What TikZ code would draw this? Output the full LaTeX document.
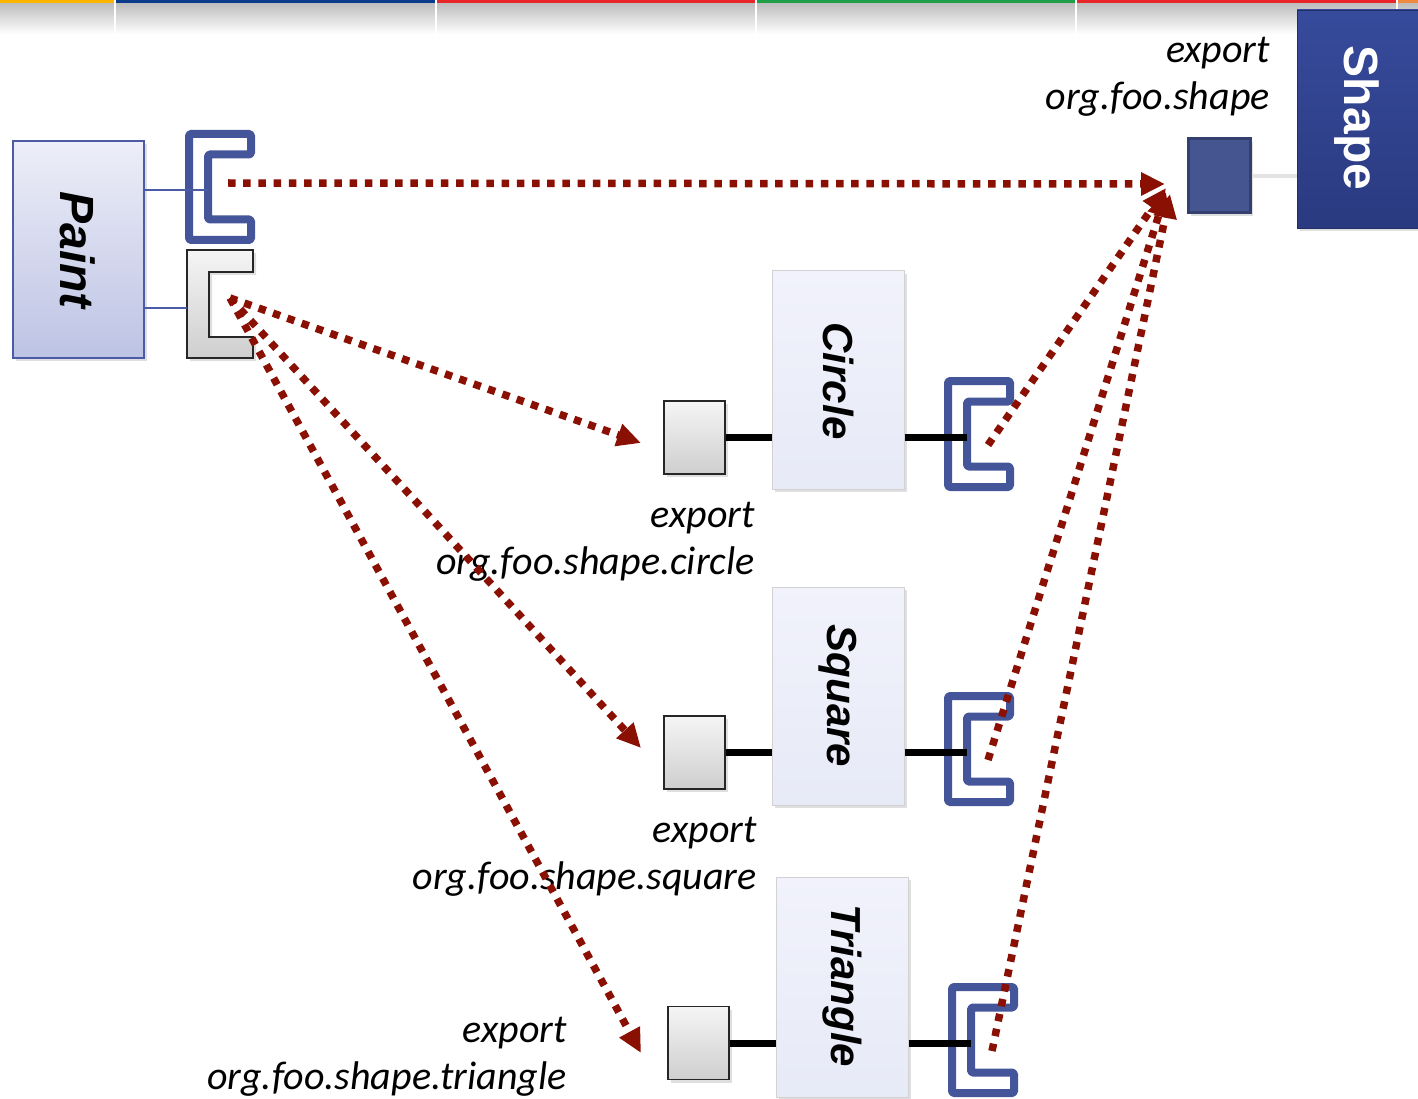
\documentclass[tikz,border=0pt]{standalone}
\usepackage{fontspec}
\setmainfont{Carlito}
\newfontfamily\arialfont{Liberation Sans}
\usetikzlibrary{arrows.meta,shadows}
\definecolor{dred}{HTML}{8B1004}
\definecolor{sockblue}{HTML}{44559A}
\definecolor{paintborder}{HTML}{4B5BA6}
\definecolor{painttop}{HTML}{EDEEF8}
\definecolor{paintbot}{HTML}{BDC3E4}
\definecolor{shapetop}{HTML}{374B9C}
\definecolor{shapebot}{HTML}{2A3A80}
\definecolor{comptop}{HTML}{F1F2FB}
\definecolor{compbot}{HTML}{E7EAF7}
\definecolor{portfill}{HTML}{44558F}
\definecolor{portborder}{HTML}{33406F}
\definecolor{barA}{HTML}{FFB400}
\definecolor{barB}{HTML}{0A3A8A}
\definecolor{barC}{HTML}{E8262A}
\definecolor{barD}{HTML}{1E9E48}
\definecolor{barE}{HTML}{F08A40}
\begin{document}
\begin{tikzpicture}[x=1pt,y=-1pt,
  shadowed/.style={drop shadow={opacity=0.25,shadow xshift=3pt,shadow yshift=-3pt}},
  compbox/.style={shadowed,draw=gray!35,line width=1pt,top color=comptop,bottom color=compbot,minimum width=132pt,minimum height=218pt,inner sep=0pt},
  portbox/.style={shadowed,draw=gray!30!black,line width=1.5pt,top color=gray!8,bottom color=gray!38,minimum width=61pt,minimum height=73pt,inner sep=0pt},
  complbl/.style={rotate=-90,font=\arialfont\fontsize{42}{50}\selectfont\bfseries\itshape},
  lbl/.style={anchor=east,align=right,inner sep=0pt,font=\fontsize{40}{47}\selectfont\itshape},
  wire/.style={line width=7pt,black},
  thinblue/.style={line width=1.2pt,paintborder},
  dotarrow/.style={draw=dred,line width=7.5pt,dash pattern=on 7.5pt off 7.7pt,-{Triangle[length=24pt,width=22pt]}},
  bsock/.pic={
    \draw[sockblue,line width=8pt,line join=round,rounded corners=1.5pt,fill=white]
      (4,4) -- (66,4) -- (66,24.5) -- (23,24.5) -- (23,89.5) -- (66,89.5) -- (66,110) -- (4,110) -- cycle;
    \coordinate (-in) at (23,60);
    \coordinate (-top) at (43,53);
    \coordinate (-out) at (44,68);
  },
  gsock/.pic={
    \draw[draw=gray!30!black,line width=1.5pt,top color=gray!8,bottom color=gray!38,shadowed]
      (0,0) -- (66,0) -- (66,22) -- (22,22) -- (22,87) -- (66,87) -- (66,108) -- (0,108) -- cycle;
    \coordinate (-in) at (0,58);
    \coordinate (-out) at (43,48);
  }
]
\useasboundingbox (0,0) rectangle (1418,1099);
% top bar
\shade[top color=gray!52,bottom color=white] (0,3) rectangle (1418,34);
\fill[barA] (0,0) rectangle (115,3);
\fill[barB] (115,0) rectangle (436,3);
\fill[barC] (436,0) rectangle (756,3);
\fill[barD] (756,0) rectangle (1076,3);
\fill[barC] (1076,0) rectangle (1397,3);
\fill[barE] (1397,0) rectangle (1418,3);
\foreach \xx in {115,436,756,1076,1397} \draw[white,line width=2pt] (\xx,0) -- (\xx,34);

% Shape
\node[shadowed,draw=shapebot!80!black,line width=0.8pt,top color=shapetop,bottom color=shapebot,minimum width=133pt,minimum height=218pt,inner sep=0pt] (shape) at (1363.5,119) {};
\node[rotate=-90,white,font=\arialfont\fontsize{48}{56}\selectfont\bfseries] (shapelbl) at (1357,118) {Shape};
\node[shadowed,draw=portborder,line width=3pt,fill=portfill,minimum width=62pt,minimum height=74pt,inner sep=0pt] (shport) at (1219,176) {};
\draw[gray!22,line width=4pt] (shport.east) -- (shport.east -| shape.west);
\node[lbl] (lshape) at (1270,77) {export\\org.foo.shape};

% Paint
\node[shadowed,draw=paintborder,line width=1.5pt,top color=painttop,bottom color=paintbot,minimum width=131pt,minimum height=217pt,inner sep=0pt] (paint) at (78.5,249.5) {};
\node[rotate=-90,font=\arialfont\fontsize{48}{56}\selectfont\bfseries\itshape] (paintlbl) at (78,250) {Paint};
\pic (ps) at (185,130) {bsock};
\pic (pg) at (187,250) {gsock};
\draw[thinblue] (paint.east |- ps-in) -- (ps-in);
\draw[thinblue] (paint.east |- pg-in) -- (pg-in);

% Circle
\node[compbox] (circ) at (838,380) {};
\node[complbl] (circlbl) at (838,381) {Circle};
\node[portbox] (cport) at (694.5,437.5) {};
\pic (cs) at (944,377) {bsock};
\draw[wire] (cport.east) -- (cport.east -| circ.west);
\draw[wire] (circ.east |- cport.east) -- (cs-in |- cport.east);
\node[lbl] (lcirc) at (755,542) {export\\org.foo.shape.circle};

% Square
\node[compbox] (squ) at (838,696) {};
\node[complbl] (squlbl) at (838,696) {Square};
\node[portbox] (sport) at (694.5,752.5) {};
\pic (ss) at (944,692) {bsock};
\draw[wire] (sport.east) -- (sport.east -| squ.west);
\draw[wire] (squ.east |- sport.east) -- (ss-in |- sport.east);
\node[lbl] (lsqu) at (757,857) {export\\org.foo.shape.square};

% Triangle
\node[compbox,minimum height=220pt] (tri) at (842,987) {};
\node[complbl] (trilbl) at (842,986) {Triangle};
\node[portbox] (tport) at (698.5,1043) {};
\pic (ts) at (948,983) {bsock};
\draw[wire] (tport.east) -- (tport.east -| tri.west);
\draw[wire] (tri.east |- tport.east) -- (ts-in |- tport.east);
\node[lbl] (ltri) at (567,1057) {export\\org.foo.shape.triangle};

% arrow targets
\coordinate (t0) at (1165,184);
\coordinate (t1) at (1166,188);
\coordinate (t2) at (1166,192);
\coordinate (t3) at (1170,194);
\coordinate (tc) at (641,443);
\coordinate (tsq) at (641,748);
\coordinate (ttr) at (641,1053);

% arrows
\draw[dotarrow] (ps-top) -- (t0);
\draw[dotarrow] (pg-out) -- (tc);
\draw[dotarrow] (pg-out) -- (tsq);
\draw[dotarrow] (pg-out) -- (ttr);
\draw[dotarrow] (cs-out) -- (t1);
\draw[dotarrow] (ss-out) -- (t2);
\draw[dotarrow] (ts-out) -- (t3);
\end{tikzpicture}
\end{document}
